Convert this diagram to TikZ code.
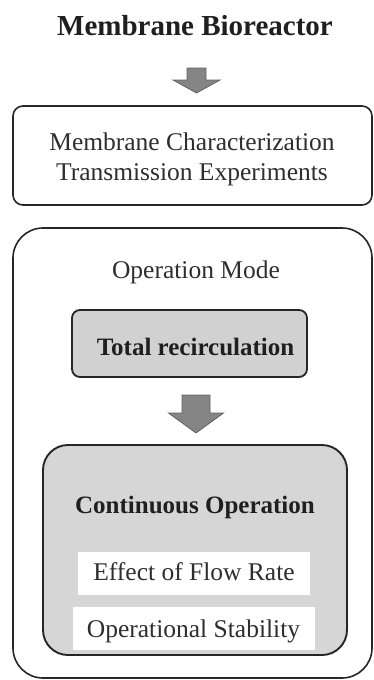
\documentclass[tikz,border=0pt]{standalone}
\usepackage{fontspec}
\setmainfont{Liberation Serif}
\begin{document}
\begin{tikzpicture}[x=1pt,y=-1pt,
  frame/.style={draw=black!85, line width=1.6pt, inner sep=0pt},
  panel/.style={frame, fill=black!16, line width=1.9pt},
  plain/.style={text=black!82, font=\fontsize{25.5}{28}\selectfont, inner sep=0pt, anchor=base},
  heavy/.style={text=black!88, font=\fontsize{25}{28}\selectfont\bfseries, inner sep=0pt, anchor=base},
  whitebox/.style={fill=white, draw=none, inner sep=0pt},
  blockarrow/.style={fill=black!48, draw=black!62, line width=0.8pt, line join=miter}
]
\useasboundingbox (0,0) rectangle (374,680);

% heading
\node[text=black!88, font=\fontsize{29}{32}\selectfont\bfseries, inner sep=0pt, anchor=base]
  (title) at (195,35) {Membrane Bioreactor};

% characterization box
\node[frame, rounded corners=10pt, minimum width=359pt, minimum height=99pt]
  (charbox) at (192.5,155.5) {};
\node[plain] (char1) at (192,150) {Membrane Characterization};
\node[plain] (char2) at (192,180) {Transmission Experiments};

% operation mode box
\node[frame, rounded corners=30pt, minimum width=359pt, minimum height=450pt]
  (modebox) at (192.5,453) {};
\node[plain] (mode) at (196,278) {Operation Mode};

% total recirculation
\node[panel, fill=black!18, line width=1.8pt, rounded corners=8pt,
  minimum width=235pt, minimum height=67pt] (recirc) at (189.5,343.5) {};
\node[heavy] (recirctext) at (195.5,355) {Total recirculation};

% continuous operation
\node[panel, rounded corners=25pt, minimum width=304pt, minimum height=210pt]
  (contbox) at (195,550) {};
\node[heavy] (conttext) at (195,513) {Continuous Operation};
\node[whitebox, minimum width=232pt, minimum height=43pt] (flowbox) at (194,573.5) {};
\node[plain] (flow) at (194,580) {Effect of Flow Rate};
\node[whitebox, minimum width=242pt, minimum height=43pt] (stabbox) at (194,628.5) {};
\node[plain] (stab) at (193.5,637) {Operational Stability};

% block arrows
\coordinate (a1) at (196.5,68);
\draw[blockarrow] (a1) ++(-9.5,0) -- ++(19,0) -- ++(0,12) -- ++(14,0)
  -- ++(-23.5,13) -- ++(-23.5,-13) -- ++(14,0) -- cycle;
\coordinate (a2) at (196,395);
\draw[blockarrow] (a2) ++(-14,0) -- ++(28,0) -- ++(0,18) -- ++(13.5,0)
  -- ++(-27.5,20) -- ++(-27.5,-20) -- ++(13.5,0) -- cycle;
\end{tikzpicture}
\end{document}
